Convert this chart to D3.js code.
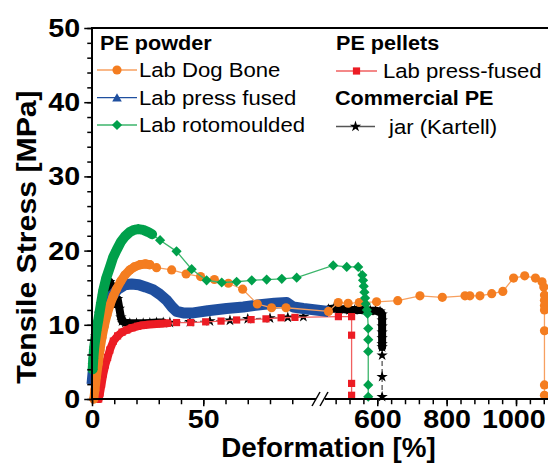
<!DOCTYPE html>
<html><head><meta charset="utf-8">
<script src="https://cdn.jsdelivr.net/npm/d3@7"></script>
<style>
html,body{margin:0;padding:0;background:#fff;}
svg{display:block;font-family:"Liberation Sans",Arial,Helvetica,sans-serif;}
</style></head><body>
<svg id="chart" width="548" height="468"></svg>
<script>
// ---------- data (deformation %, tensile stress MPa) ----------
const yTickValues = [0, 10, 20, 30, 40, 50];
const xTickLeft = [0, 50];
const xTickRight = [600, 800, 1000];

const dogBoneRise = [[0.8,0],[1.3,1.2],[2,3],[2.8,4.8],[3.6,6.6],[4.5,8.3],[5.5,9.8],[6.7,11.3],[8.1,12.7],[9.5,13.8],[11,14.8],[13,15.9],[14.8,16.7],[17,17.4],[19,17.8],[21.6,18.1],[24,18.2],[26,18.1]];
const dogBoneTail = [[29,17.7],[35.8,17.4],[42.3,16.85],[48.8,16.5],[55,16.1],[61.3,15.6],[67.7,14.8],[74.3,12.8],[80.7,12.3],[87.2,12.3],[454,11.8],[487.6,13.0],[516,12.9],[548,13.0],[598,13.1],[659,13.25],[723,13.9],[787.5,13.7],[853,13.9],[867,13.9],[896,13.9],[930,14.2],[962,14.5],[993,16.3],[1025,16.6],[1056,16.3],[1075,15.8],[1080,15.1],[1082,14.0],[1082,13.3],[1082,12.6],[1082,12.0],[1082,9.2],[1082,1.9],[1082,0.5]];

const pressFused = [[0,2],[1.3,6.2],[2.5,8.5],[4.4,10.6],[6.5,12.4],[8.8,13.8],[11.5,14.8],[14.8,15.4],[17.8,15.5],[21,15.4],[24,15.1],[27.6,14.7],[30.5,14.1],[33.6,13.3],[36,12.4],[38,11.8],[41,11.6],[45.5,11.6],[52,11.9],[60.5,12.2],[68,12.4],[75.5,12.7],[82,12.9],[87.5,13.0],[90.4,12.4],[95,12.2],[455,11.8]];

const rotoRise = [[0.3,4],[0.6,5.5],[1,7],[2,9.2],[2.8,10.6],[4,12.8],[5.1,14.7],[6.5,16.4],[8.1,17.8],[9.5,19.1],[11.1,20.1],[13,21.2],[14.8,21.9],[17,22.5],[19,22.8],[20.8,22.9],[23,22.8],[25.3,22.5],[27,22.2]];
const rotoTail = [[30.6,21.4],[38,19.9],[44.8,17.5],[51.5,16.0],[58.3,15.7],[65,15.8],[71.8,16.0],[78.5,16.1],[85.3,16.2],[92,16.35],[473,18.0],[512,17.8],[545,17.8],[557,16.7],[559,16.0],[561,15.2],[563,14.4],[565,13.6],[567,12.8],[570,12.0],[572,11.5],[574,9.5],[574,8.0],[574,6.4],[574,1.9],[574,0.3]];

const pelletsRise = [[3,0],[3.6,0.8],[4.3,2],[5.1,3.4],[6,4.6],[7,5.6],[8,6.6],[9.6,7.8],[11.5,8.5],[13.5,9],[15.6,9.3],[18,9.6],[20.5,9.8],[23,9.95],[26,10.05],[30.6,10.15],[34,10.2]];
const pelletsTail = [[38,10.3],[44.4,10.3],[51.1,10.4],[58,10.5],[65,10.65],[71.5,10.7],[78.2,10.8],[85,10.95],[91.2,11.0],[488,11.1],[526,11.1],[526,8.6],[526,2.1],[526,0.5]];

const jarRise = [[0.5,4.5],[1,6.5],[1.7,8.5],[2.5,10],[3.3,11.5],[4.2,12.8],[5,13.8],[6,14.8],[7,15.4],[8,15.8],[9,15.2],[10,13.8],[10.8,12.8],[11.5,13.5],[12.3,12.2],[13,11],[13.5,10.5],[15,10.3],[17,10.2],[20,10.2],[23,10.2],[26,10.25],[29,10.3],[32,10.3]];
const jarMid = [[35,10.3],[44,10.4],[53,10.5],[62,10.6],[70,10.8],[80,10.9],[88,11.0],[95,11.1]];
const jarPlateau = [[445,12.0],[460,12.1],[475,12.2],[490,12.1],[505,12.1],[520,12.0],[535,12.0],[550,12.0],[565,12.0],[580,11.9],[595,11.9],[608,11.8],[614,11.4],[614,10.6],[614,9.8],[614,9.0],[614,8.2],[614,7.4],[614,7.0]];
const jarDrop = [[614,5.9],[614,3.0],[614,0.3]];

// ---------- setup ----------
const svg = d3.select("#chart");
const x = d3.scaleLinear().domain([0, 100, 460, 1100]).range([92, 314.5, 328.7, 550.7]);
const y = d3.scaleLinear().domain([0, 50]).range([399, 28]);

function addText(g, str, tx, ty, o) {
  return g.append("text")
    .attr("transform", `translate(${tx},${ty})${o.rotate ? ` rotate(${o.rotate})` : ""} scale(${o.sx || 1},1)`)
    .attr("text-anchor", o.anchor || "start")
    .attr("font-size", o.size)
    .attr("font-weight", o.weight || "normal")
    .attr("fill", "#000")
    .text(str);
}

const sym = {
  circle: d3.symbol().type(d3.symbolCircle).size(66),
  triangle: d3.symbol().type(d3.symbolTriangle).size(40),
  diamond: d3.symbol().type(d3.symbolSquare).size(52),
  square: d3.symbol().type(d3.symbolSquare).size(52),
  star: d3.symbol().type(d3.symbolStar).size(40)
};
function marker(g, kind, px, py, color) {
  g.append("path").attr("d", sym[kind]())
    .attr("transform", `translate(${px},${py})${kind === "diamond" ? " rotate(45)" : ""}`)
    .attr("fill", color);
}

const line = d3.line().x(d => x(d[0])).y(d => y(d[1]));

const series = [
  { parts: [jarRise, jarMid, jarPlateau, jarDrop], bands: [jarRise, jarPlateau], color: "#000", lineColor: "#555", dash: "5,3", band: 8, kind: "star", marks: true },
  { parts: [pelletsRise, pelletsTail], bands: [pelletsRise], color: "#ec1c24", lineColor: "#f06060", band: 8, kind: "square", marks: true },
  { parts: [pressFused], bands: [pressFused], color: "#1f4f9f", lineColor: "#1f4f9f", band: 11, kind: "triangle", marks: false },
  { parts: [dogBoneRise, dogBoneTail], bands: [dogBoneRise], color: "#f47d20", lineColor: "#f7a060", band: 9, kind: "circle", marks: true },
  { parts: [rotoRise, rotoTail], bands: [rotoRise], color: "#00a04b", lineColor: "#3cb56b", band: 10, kind: "diamond", marks: true }
];

const plot = svg.append("g");
series.forEach(s => {
  const all = [].concat(...s.parts);
  const g = plot.append("g");
  g.append("path").attr("d", line(all)).attr("fill", "none")
    .attr("stroke", s.lineColor).attr("stroke-width", 1.3)
    .attr("stroke-dasharray", s.dash || null);
  s.bands.forEach(b => {
    g.append("path").attr("d", line(b)).attr("fill", "none")
      .attr("stroke", s.color).attr("stroke-width", s.band)
      .attr("stroke-linejoin", "round").attr("stroke-linecap", s.kind === "triangle" ? "butt" : "round");
  });
  if (s.marks) all.forEach(d => marker(g, s.kind, x(d[0]), y(d[1]), s.color));
});

// ---------- axes ----------
const axG = svg.append("g").attr("stroke-linecap", "square");
const fmt = d3.format("d");
axG.append("g").attr("transform", "translate(92,0)")
  .call(d3.axisLeft(y).tickValues(d3.range(0, 51, 2)).tickSize(4).tickSizeOuter(0).tickFormat(""));
const yMajor = axG.append("g").attr("class", "lbl").attr("transform", "translate(92,0)")
  .call(d3.axisLeft(y).tickValues(yTickValues).tickSize(7).tickSizeOuter(0).tickPadding(4).tickFormat(fmt));
axG.append("g").attr("transform", "translate(0,399)")
  .call(d3.axisBottom(x).tickValues(d3.range(0, 100, 10)).tickSize(4.5).tickFormat(""));
axG.append("g").attr("class", "lbl").attr("transform", "translate(0,399)")
  .call(d3.axisBottom(x).tickValues(xTickLeft).tickSize(6.5).tickPadding(4).tickFormat(fmt));
axG.append("g").attr("transform", "translate(0,399)")
  .call(d3.axisBottom(x).tickValues(d3.range(480, 1100, 40)).tickSize(4.5).tickFormat(""));
const xMajorR = axG.append("g").attr("class", "lbl").attr("transform", "translate(0,399)")
  .call(d3.axisBottom(x).tickValues(xTickRight).tickSize(6.5).tickPadding(4).tickFormat(fmt));

axG.selectAll(".domain").remove();
axG.selectAll(".tick line").attr("stroke", "#000").attr("stroke-width", 1.5);
axG.selectAll(".lbl .tick text")
  .attr("font-family", '"Liberation Sans",Arial,sans-serif')
  .attr("font-size", 26.5).attr("font-weight", "bold").attr("fill", "#000")
  .attr("transform", "scale(1.08,1)");
// keep the last label inside the picture
xMajorR.selectAll(".tick text").filter(d => d === 1000).attr("x", -2.5);

// axis lines and frame
const frame = svg.append("g").attr("stroke", "#000").attr("stroke-width", 2).attr("fill", "none");
frame.append("line").attr("x1", 92).attr("x2", 92).attr("y1", 27).attr("y2", 400);
frame.append("line").attr("x1", 91).attr("x2", 548).attr("y1", 28).attr("y2", 28);
frame.append("line").attr("x1", 91).attr("x2", 316).attr("y1", 399).attr("y2", 399);
frame.append("line").attr("x1", 325).attr("x2", 548).attr("y1", 399).attr("y2", 399);
frame.append("line").attr("x1", 312).attr("y1", 406).attr("x2", 320).attr("y2", 392).attr("stroke-width", 1.5);
frame.append("line").attr("x1", 320).attr("y1", 406).attr("x2", 328).attr("y2", 392).attr("stroke-width", 1.5);

// axis titles
addText(svg, "Deformation [%]", 328.5, 456.5, { size: 27, weight: "bold", anchor: "middle", sx: 1.03 });
addText(svg, "Tensile Stress [MPa]", 36, 237, { size: 28, weight: "bold", anchor: "middle", rotate: -90, sx: 1.08 });

// ---------- legend ----------
const leg = svg.append("g");
addText(leg, "PE powder", 100, 50, { size: 21, weight: "bold", sx: 1.03 });
addText(leg, "PE pellets", 336, 50, { size: 21, weight: "bold", sx: 1.03 });
addText(leg, "Commercial PE", 335, 105, { size: 21, weight: "bold", sx: 1.03 });

const legendRows = [
  { label: "Lab Dog Bone", s: series[3], x0: 97, x1: 137, cy: 70, tx: 139 },
  { label: "Lab press fused", s: series[2], x0: 97, x1: 137, cy: 97.7, tx: 139 },
  { label: "Lab rotomoulded", s: series[4], x0: 97, x1: 137, cy: 125, tx: 139 },
  { label: "Lab press-fused", s: series[1], x0: 336, x1: 377, cy: 71, tx: 383 },
  { label: "jar (Kartell)", s: series[0], x0: 336, x1: 375, cy: 126.5, tx: 389 }
];
legendRows.forEach(r => {
  leg.append("line").attr("x1", r.x0).attr("x2", r.x1).attr("y1", r.cy).attr("y2", r.cy)
    .attr("stroke", r.s.lineColor).attr("stroke-width", 1.3);
  marker(leg, r.s.kind, (r.x0 + r.x1) / 2, r.cy + (r.s.kind === "triangle" ? 1 : 0), r.s.color);
  addText(leg, r.label, r.tx, r.cy + 7.3, { size: 19.5, sx: 1.135 });
});
</script>
</body></html>
